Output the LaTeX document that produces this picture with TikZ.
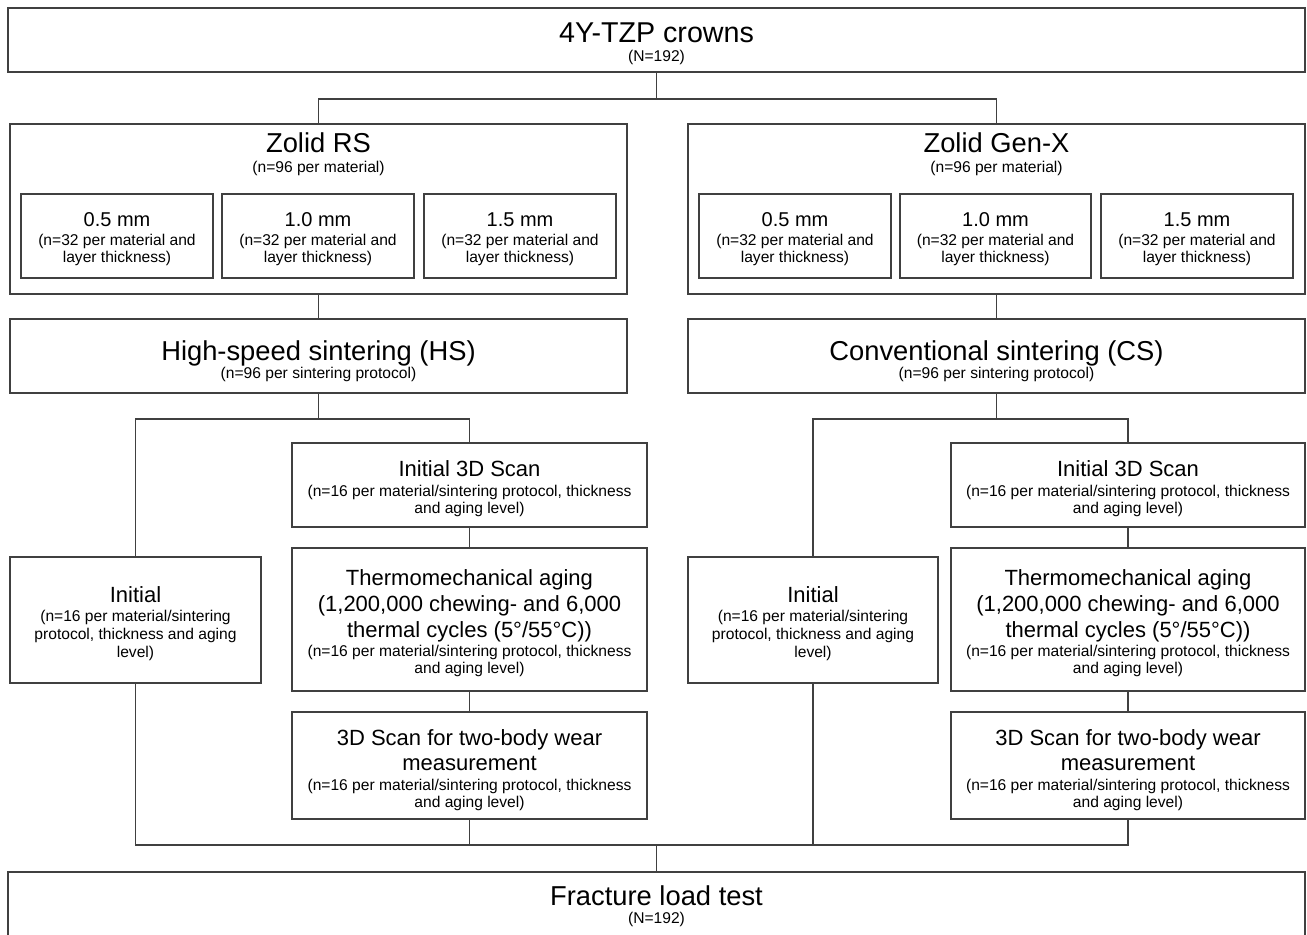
\documentclass[tikz,border=0pt]{standalone}
\usepackage{fontspec}
\setmainfont{Liberation Sans}
\newcommand\szT{\fontsize{21.5}{25}\selectfont}
\newcommand\szB{\fontsize{20.5}{24}\selectfont}
\newcommand\szM{\fontsize{16.5}{19}\selectfont}
\newcommand\szK{\fontsize{15}{18}\selectfont}
\newcommand\szS{\fontsize{11.7}{13}\selectfont}
\newcommand\mybox[5]{%
  \pgfmathsetmacro\bw{(#4-#2)*0.75}\pgfmathsetmacro\bh{(#5-#3)*0.75}%
  \node[box,minimum width=\bw pt,minimum height=\bh pt] (#1) at (#2,#3) {};}
\newcommand\putline[5]{\node[tx,font=#4] (#1) at (#2,#3) {#5};}
\begin{document}
\begin{tikzpicture}[x=0.75pt,y=-0.75pt,
  box/.style={draw=black!75,line width=1pt,inner sep=0,outer sep=0,anchor=north west,fill=white},
  ln/.style={draw=black!75,line width=1pt},
  tx/.style={inner sep=0,anchor=base,text=black}]
\clip (0,0) rectangle (1307,935);
% boxes
\mybox{top}{8}{8}{1305}{72}
\mybox{zrs}{10}{124}{627}{294}
\mybox{zgx}{688}{124}{1305}{294}
\mybox{ta}{21}{194}{213}{278}
\mybox{tb}{222}{194}{414}{278}
\mybox{tc}{424}{194}{616}{278}
\mybox{td}{699}{194}{891}{278}
\mybox{te}{900}{194}{1091}{278}
\mybox{tf}{1101}{194}{1293}{278}
\mybox{hs}{10}{319}{627}{393}
\mybox{cs}{688}{319}{1305}{393}
\mybox{iniL}{10}{557}{261}{683}
\mybox{iniR}{688}{557}{938}{683}
\mybox{scanL}{292}{443}{647}{527}
\mybox{thL}{292}{548}{647}{691}
\mybox{wearL}{292}{712}{647}{819}
\mybox{scanR}{951}{443}{1305}{527}
\mybox{thR}{951}{548}{1305}{691}
\mybox{wearR}{951}{712}{1305}{819}
\mybox{frac}{8}{872}{1305}{945}
% junctions
\coordinate (j1) at (656.5,99);
\coordinate (jL) at (318.5,419);
\coordinate (jR) at (996.5,419);
\coordinate (jB) at (656.5,845);
% connectors
\draw[ln] (top.south) -- (j1);
\draw[ln] (zrs.north) |- (j1) -| (zgx.north);
\draw[ln] (zrs.south) -- (hs.north);
\draw[ln] (zgx.south) -- (cs.north);
\draw[ln] (hs.south) -- (jL);
\draw[ln] (iniL.north) |- (jL) -| (scanL.north);
\draw[ln] (cs.south) -- (jR);
\draw[ln] (iniR.north) |- (jR) -| (scanR.north);
\draw[ln] (scanL.south) -- (thL.north);
\draw[ln] (thL.south) -- (wearL.north);
\draw[ln] (scanR.south) -- (thR.north);
\draw[ln] (thR.south) -- (wearR.north);
\draw[ln] (iniL.south) |- (jB) -| (wearR.south);
\draw[ln] (wearL.south) -- (wearL.south |- jB);
\draw[ln] (iniR.south) -- (iniR.south |- jB);
\draw[ln] (jB) -- (frac.north);
% texts
\putline{l1}{656.5}{42}{\szT}{4Y-TZP crowns}
\putline{l2}{656.5}{61}{\szS}{(N=192)}
\putline{l3}{318.5}{152}{\szB}{Zolid RS}
\putline{l4}{318.5}{172}{\szS}{(n=96 per material)}
\putline{l5}{996.5}{152}{\szB}{Zolid Gen-X}
\putline{l6}{996.5}{172}{\szS}{(n=96 per material)}
\putline{a1}{117}{226}{\szK}{0.5 mm}
\putline{a2}{117}{245}{\szS}{(n=32 per material and}
\putline{a3}{117}{262}{\szS}{layer thickness)}
\putline{b1}{318}{226}{\szK}{1.0 mm}
\putline{b2}{318}{245}{\szS}{(n=32 per material and}
\putline{b3}{318}{262}{\szS}{layer thickness)}
\putline{c1}{520}{226}{\szK}{1.5 mm}
\putline{c2}{520}{245}{\szS}{(n=32 per material and}
\putline{c3}{520}{262}{\szS}{layer thickness)}
\putline{d1}{795}{226}{\szK}{0.5 mm}
\putline{d2}{795}{245}{\szS}{(n=32 per material and}
\putline{d3}{795}{262}{\szS}{layer thickness)}
\putline{e1}{995.5}{226}{\szK}{1.0 mm}
\putline{e2}{995.5}{245}{\szS}{(n=32 per material and}
\putline{e3}{995.5}{262}{\szS}{layer thickness)}
\putline{f1}{1197}{226}{\szK}{1.5 mm}
\putline{f2}{1197}{245}{\szS}{(n=32 per material and}
\putline{f3}{1197}{262}{\szS}{layer thickness)}
\putline{h1}{318.5}{360}{\szB}{High-speed sintering (HS)}
\putline{h2}{318.5}{378}{\szS}{(n=96 per sintering protocol)}
\putline{k1}{996.5}{360}{\szB}{Conventional sintering (CS)}
\putline{k2}{996.5}{378}{\szS}{(n=96 per sintering protocol)}
% left column
\putline{sL1}{469.5}{476}{\szM}{Initial 3D Scan}
\putline{sL2}{469.5}{496}{\szS}{(n=16 per material/sintering protocol, thickness}
\putline{sL3}{469.5}{513}{\szS}{and aging level)}
\putline{tL1}{469.5}{585}{\szM}{Thermomechanical aging}
\putline{tL2}{469.5}{611}{\szM}{(1,200,000 chewing- and 6,000}
\putline{tL3}{469.5}{637}{\szM}{thermal cycles (5°/55°C))}
\putline{tL4}{469.5}{656}{\szS}{(n=16 per material/sintering protocol, thickness}
\putline{tL5}{469.5}{673}{\szS}{and aging level)}
\putline{wL1}{469.5}{745}{\szM}{3D Scan for two-body wear}
\putline{wL2}{469.5}{770}{\szM}{measurement}
\putline{wL3}{469.5}{790}{\szS}{(n=16 per material/sintering protocol, thickness}
\putline{wL4}{469.5}{807}{\szS}{and aging level)}
\putline{iL1}{135.5}{602}{\szM}{Initial}
\putline{iL2}{135.5}{621}{\szS}{(n=16 per material/sintering}
\putline{iL3}{135.5}{639}{\szS}{protocol, thickness and aging}
\putline{iL4}{135.5}{657}{\szS}{level)}
% right column
\putline{sR1}{1128}{476}{\szM}{Initial 3D Scan}
\putline{sR2}{1128}{496}{\szS}{(n=16 per material/sintering protocol, thickness}
\putline{sR3}{1128}{513}{\szS}{and aging level)}
\putline{tR1}{1128}{585}{\szM}{Thermomechanical aging}
\putline{tR2}{1128}{611}{\szM}{(1,200,000 chewing- and 6,000}
\putline{tR3}{1128}{637}{\szM}{thermal cycles (5°/55°C))}
\putline{tR4}{1128}{656}{\szS}{(n=16 per material/sintering protocol, thickness}
\putline{tR5}{1128}{673}{\szS}{and aging level)}
\putline{wR1}{1128}{745}{\szM}{3D Scan for two-body wear}
\putline{wR2}{1128}{770}{\szM}{measurement}
\putline{wR3}{1128}{790}{\szS}{(n=16 per material/sintering protocol, thickness}
\putline{wR4}{1128}{807}{\szS}{and aging level)}
\putline{iR1}{813}{602}{\szM}{Initial}
\putline{iR2}{813}{621}{\szS}{(n=16 per material/sintering}
\putline{iR3}{813}{639}{\szS}{protocol, thickness and aging}
\putline{iR4}{813}{657}{\szS}{level)}
% fracture
\putline{x1}{656.5}{905}{\szB}{Fracture load test}
\putline{x2}{656.5}{923}{\szS}{(N=192)}
\end{tikzpicture}
\end{document}
